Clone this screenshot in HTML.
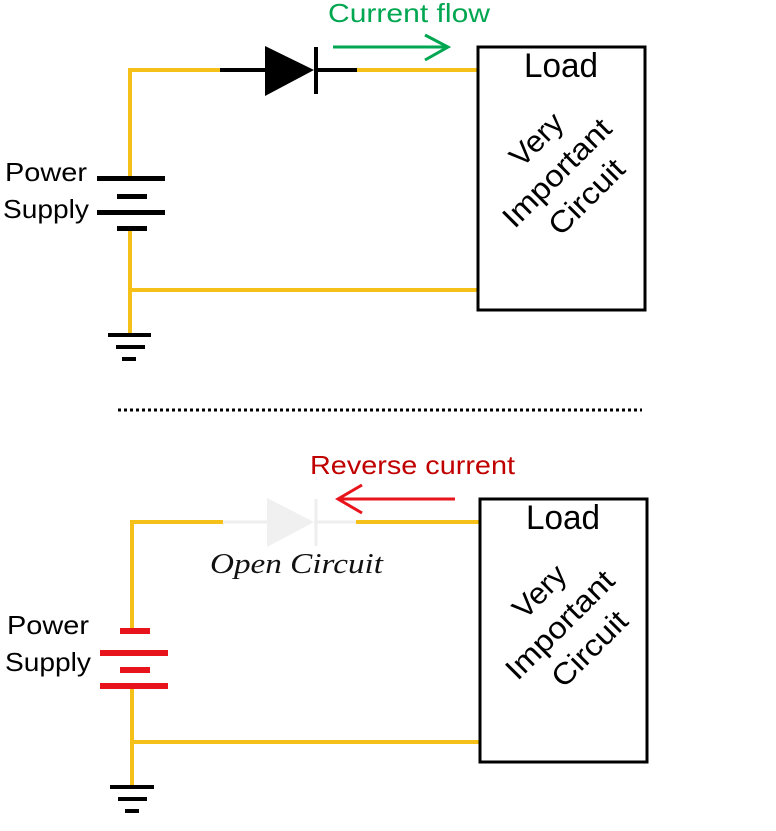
<!DOCTYPE html>
<html><head><style>body{margin:0;background:#fff}svg{display:block}</style></head><body>
<svg width="776" height="831" viewBox="0 0 776 831" xmlns="http://www.w3.org/2000/svg" font-family="Liberation Sans, DejaVu Sans, sans-serif">
<!-- TOP -->
<g stroke="#f5c018" stroke-width="4" fill="none">
<polyline points="222,70 130,70 130,178"/>
<polyline points="130,228 130,335"/>
<line x1="130" y1="290" x2="477" y2="290"/>
<line x1="356" y1="70" x2="477" y2="70"/>
</g>
<g stroke="#000" stroke-width="4">
<line x1="220" y1="70" x2="268" y2="70"/>
<line x1="314" y1="70" x2="357" y2="70"/>
<line x1="316" y1="47" x2="316" y2="94"/>
</g>
<polygon points="265,46 265,96 314,70" fill="#000"/>
<g fill="#000">
<rect x="97" y="176" width="68" height="5"/>
<rect x="117" y="194" width="30" height="5"/>
<rect x="97" y="210" width="68" height="5"/>
<rect x="117" y="226" width="30" height="5"/>
<rect x="108" y="333" width="43" height="4"/>
<rect x="116" y="345" width="29" height="4"/>
<rect x="122" y="357" width="14" height="4"/>
</g>
<text x="5" y="181" font-size="26" textLength="82" lengthAdjust="spacingAndGlyphs">Power</text>
<text x="3" y="218" font-size="26" textLength="86" lengthAdjust="spacingAndGlyphs">Supply</text>
<rect x="478" y="47" width="167" height="263" fill="none" stroke="#000" stroke-width="3"/>
<text x="561" y="77" font-size="34" text-anchor="middle" textLength="74" lengthAdjust="spacingAndGlyphs">Load</text>
<g transform="translate(564,180) rotate(-45)" font-size="30" text-anchor="middle">
<text x="9" y="-38" textLength="62" lengthAdjust="spacingAndGlyphs">Very</text><text x="0" y="0" textLength="140" lengthAdjust="spacingAndGlyphs">Important</text><text x="4" y="38" textLength="94" lengthAdjust="spacingAndGlyphs">Circuit</text>
</g>
<text x="328" y="22" font-size="26" fill="#00a650" textLength="162" lengthAdjust="spacingAndGlyphs">Current flow</text>
<g stroke="#00a650" stroke-width="3" fill="none">
<line x1="333" y1="47" x2="448" y2="47"/><polyline points="425,35 448,47 425,60"/>
</g>
<!-- dotted -->
<line x1="118" y1="410" x2="642" y2="410" stroke="#000" stroke-width="3" stroke-dasharray="3,3"/>
<!-- BOTTOM -->
<g stroke="#f5c018" stroke-width="4" fill="none">
<polyline points="223,522 132,522 132,630"/>
<polyline points="132,686 132,788"/>
<line x1="132" y1="742" x2="480" y2="742"/>
<line x1="356" y1="522" x2="480" y2="522"/>
</g>
<g stroke="#eeeeee" stroke-width="3">
<line x1="223" y1="522" x2="268" y2="522"/>
<line x1="314" y1="522" x2="356" y2="522"/>
<line x1="316" y1="499" x2="316" y2="546"/>
</g>
<polygon points="267,498 267,547 314,522" fill="#f0f0f0"/>
<text x="210" y="573" font-size="29" font-style="italic" font-family="Liberation Serif, serif" fill="#111" textLength="173" lengthAdjust="spacingAndGlyphs">Open Circuit</text>
<g fill="#e8141c">
<rect x="120" y="628" width="30" height="6"/>
<rect x="100" y="650" width="68" height="6"/>
<rect x="120" y="667" width="30" height="6"/>
<rect x="100" y="683" width="68" height="6"/>
</g>
<g fill="#000">
<rect x="110" y="785" width="44" height="4"/>
<rect x="118" y="797" width="29" height="4"/>
<rect x="125" y="809" width="14" height="4"/>
</g>
<text x="7" y="634" font-size="26" textLength="82" lengthAdjust="spacingAndGlyphs">Power</text>
<text x="5" y="671" font-size="26" textLength="86" lengthAdjust="spacingAndGlyphs">Supply</text>
<rect x="480" y="499" width="167" height="263" fill="none" stroke="#000" stroke-width="3"/>
<text x="563" y="529" font-size="34" text-anchor="middle" textLength="74" lengthAdjust="spacingAndGlyphs">Load</text>
<g transform="translate(567,632) rotate(-45)" font-size="30" text-anchor="middle">
<text x="9" y="-38" textLength="62" lengthAdjust="spacingAndGlyphs">Very</text><text x="0" y="0" textLength="140" lengthAdjust="spacingAndGlyphs">Important</text><text x="4" y="38" textLength="94" lengthAdjust="spacingAndGlyphs">Circuit</text>
</g>
<text x="310" y="474" font-size="26" fill="#c00000" textLength="205" lengthAdjust="spacingAndGlyphs">Reverse current</text>
<g stroke="#e8141c" stroke-width="3" fill="none">
<line x1="338" y1="499" x2="455" y2="499"/><polyline points="362,485 338,499 362,513"/>
</g>
</svg>
</body></html>
